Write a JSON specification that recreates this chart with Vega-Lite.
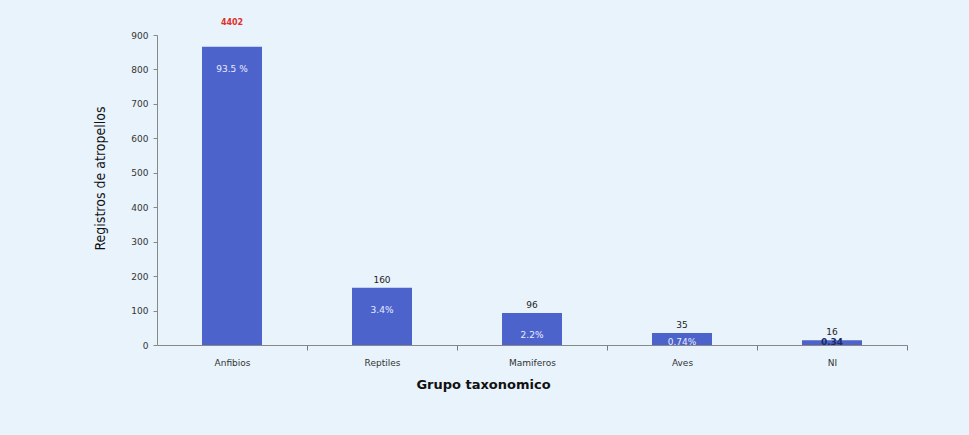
{
  "$schema": "https://vega.github.io/schema/vega-lite/v6.json",
  "autosize": {"type": "none"},
  "width": 750,
  "height": 310,
  "padding": {"left": 157, "top": 35, "right": 62, "bottom": 90},
  "background": "#e9f3fc",
  "config": {
    "view": {"stroke": null},
    "font": "DejaVu Sans"
  },
  "data": {
    "values": [
      {"grupo": "Anfibios", "registros": 866, "total": "4402", "pct": "93.5 %"},
      {"grupo": "Reptiles", "registros": 166, "total": "160", "pct": "3.4%"},
      {"grupo": "Mamiferos", "registros": 93, "total": "96", "pct": "2.2%"},
      {"grupo": "Aves", "registros": 35, "total": "35", "pct": "0.74%"},
      {"grupo": "NI", "registros": 14, "total": "16", "pct": "0.34"}
    ]
  },
  "encoding": {
    "x": {
      "field": "grupo",
      "type": "nominal",
      "sort": null,
      "title": "Grupo taxonomico",
      "scale": {"paddingInner": 0.6, "paddingOuter": 0.3},
      "axis": {
        "labelAngle": 0,
        "labelFont": "DejaVu Sans",
        "labelFontSize": 9,
        "labelColor": "#333333",
        "labelPadding": 8,
        "labelOffset": -75,
        "tickOffset": 75,
        "tickSize": 5,
        "tickColor": "#777777",
        "domainColor": "#888888",
        "titleFont": "DejaVu Sans",
        "titleFontSize": 13,
        "titleFontWeight": "bold",
        "titleColor": "#111111",
        "titleX": 326,
        "titleY": 33,
        "titleAlign": "center"
      }
    },
    "y": {
      "field": "registros",
      "type": "quantitative",
      "title": "Registros de atropellos",
      "scale": {"domain": [0, 900], "nice": false},
      "axis": {
        "values": [0, 100, 200, 300, 400, 500, 600, 700, 800, 900],
        "grid": false,
        "labelFont": "DejaVu Sans",
        "labelFontSize": 9,
        "labelColor": "#333333",
        "labelPadding": 5,
        "tickSize": 4,
        "tickColor": "#888888",
        "domainColor": "#888888",
        "titleFont": "DejaVu Sans Condensed",
        "titleFontSize": 14,
        "titleFontWeight": "normal",
        "titleColor": "#111111",
        "titleX": -57,
        "titleY": 143,
        "titleAngle": -90,
        "titleAlign": "center",
        "titleBaseline": "middle"
      }
    }
  },
  "layer": [
    {
      "mark": {"type": "bar", "color": "#4d63cc"}
    },
    {
      "transform": [{"filter": "datum.grupo == 'Anfibios'"}],
      "mark": {"type": "text", "baseline": "bottom", "dy": -20, "fontSize": 8, "fontWeight": "bold", "color": "#e0302a"},
      "encoding": {"text": {"field": "total"}}
    },
    {
      "transform": [{"filter": "datum.grupo != 'Anfibios'"}],
      "mark": {"type": "text", "baseline": "bottom", "dy": -3, "fontSize": 9, "color": "#222222"},
      "encoding": {"text": {"field": "total"}}
    },
    {
      "transform": [{"filter": "datum.registros > 50"}],
      "mark": {"type": "text", "baseline": "middle", "dy": 22, "fontSize": 9, "color": "#e8ecff"},
      "encoding": {"text": {"field": "pct"}}
    },
    {
      "transform": [{"filter": "datum.grupo == 'Aves'"}],
      "mark": {"type": "text", "baseline": "bottom", "dy": 2, "fontSize": 9, "color": "#e8ecff"},
      "encoding": {"y": {"datum": 0}, "text": {"field": "pct"}}
    },
    {
      "transform": [{"filter": "datum.grupo == 'NI'"}],
      "mark": {"type": "text", "baseline": "bottom", "dy": 2, "fontSize": 9, "fontWeight": "bold", "color": "#1c2a66"},
      "encoding": {"y": {"datum": 0}, "text": {"field": "pct"}}
    }
  ]
}
